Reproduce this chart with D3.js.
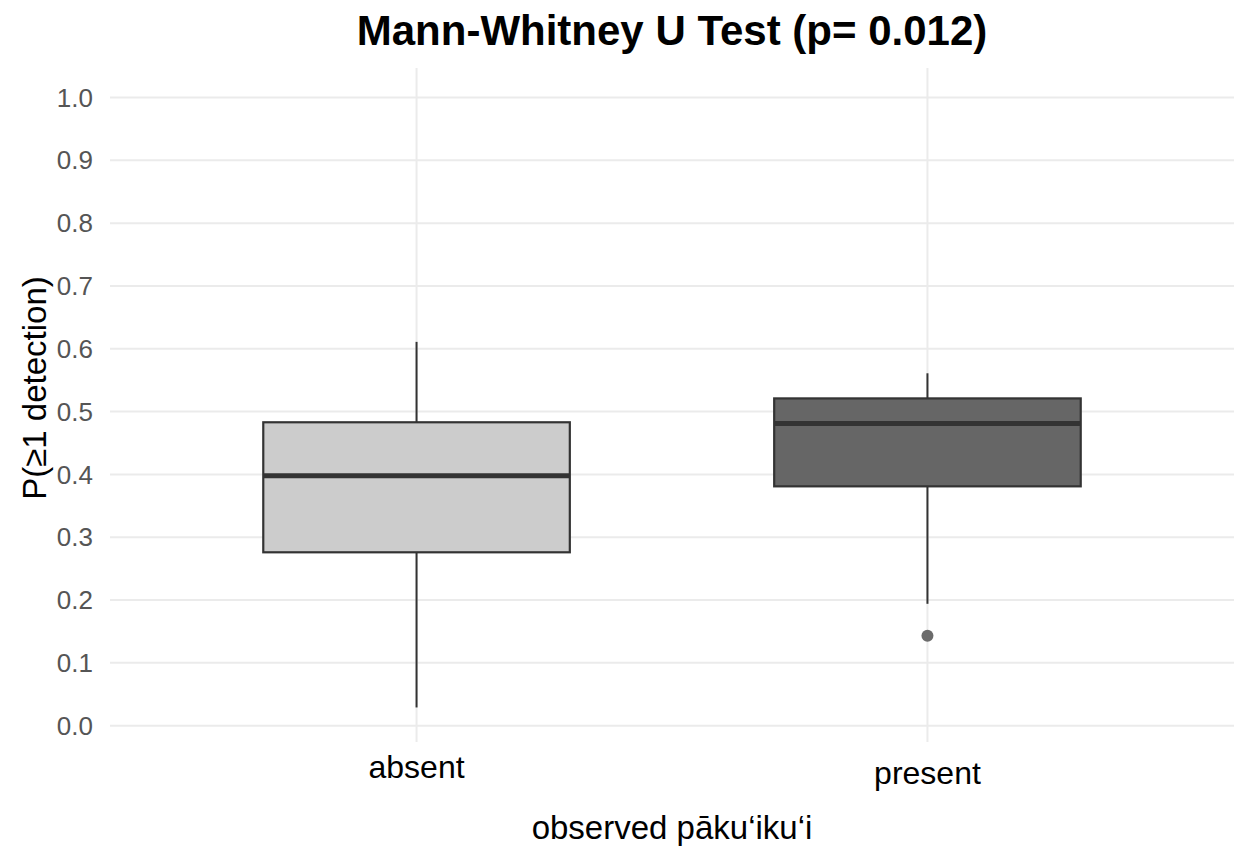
<!DOCTYPE html>
<html>
<head>
<meta charset="utf-8">
<script src="https://cdn.jsdelivr.net/npm/d3@7"></script>
<style>
  body { margin: 0; background: #fff; }
  text { font-family: "Liberation Sans", Arial, sans-serif; }
</style>
</head>
<body>
<div id="chart"></div>
<script>
// box stats
var categories = ['absent', 'present'];
var whiskerLow = [0.029, 0.194];
var q1 = [0.276, 0.381];
var median = [0.398, 0.481];
var q3 = [0.483, 0.521];
var whiskerHigh = [0.611, 0.561];
var outliers = [[], [0.143]];
var fills = ['#CCCCCC', '#666666'];
var yTicks = [0, 0.1, 0.2, 0.3, 0.4, 0.5, 0.6, 0.7, 0.8, 0.9, 1.0];

var W = 1238, H = 847;
var pLeft = 110, pRight = 1234, pTop = 68, pBottom = 742;

var svg = d3.select('#chart').append('svg')
    .attr('width', W)
    .attr('height', H);

var x = d3.scalePoint()
    .domain(categories)
    .range([pLeft, pRight])
    .padding(0.6);

var y = d3.scaleLinear()
    .domain([-0.026, 1.047])
    .range([pBottom, pTop]);

var boxW = x.step() * 0.6;

// grid
svg.append('g')
    .selectAll('line')
    .data(yTicks)
    .enter().append('line')
    .attr('x1', pLeft).attr('x2', pRight)
    .attr('y1', d => y(d)).attr('y2', d => y(d))
    .attr('stroke', '#EBEBEB')
    .attr('stroke-width', 2);

svg.append('g')
    .selectAll('line')
    .data(categories)
    .enter().append('line')
    .attr('x1', d => x(d)).attr('x2', d => x(d))
    .attr('y1', pTop).attr('y2', pBottom)
    .attr('stroke', '#EBEBEB')
    .attr('stroke-width', 2);

// y tick labels
svg.append('g')
    .selectAll('text')
    .data(yTicks)
    .enter().append('text')
    .attr('x', 93)
    .attr('y', d => y(d))
    .attr('dy', '0.35em')
    .attr('text-anchor', 'end')
    .attr('font-size', 26)
    .attr('fill', '#555555')
    .text(d => d3.format('.1f')(d));

// boxes
var boxes = svg.append('g')
    .selectAll('g')
    .data(categories)
    .enter().append('g');

boxes.append('line')
    .attr('x1', d => x(d)).attr('x2', d => x(d))
    .attr('y1', (d, i) => y(whiskerLow[i]))
    .attr('y2', (d, i) => y(q1[i]))
    .attr('stroke', '#333333').attr('stroke-width', 2);

boxes.append('line')
    .attr('x1', d => x(d)).attr('x2', d => x(d))
    .attr('y1', (d, i) => y(q3[i]))
    .attr('y2', (d, i) => y(whiskerHigh[i]))
    .attr('stroke', '#333333').attr('stroke-width', 2);

boxes.append('rect')
    .attr('x', d => x(d) - boxW / 2)
    .attr('width', boxW)
    .attr('y', (d, i) => y(q3[i]))
    .attr('height', (d, i) => y(q1[i]) - y(q3[i]))
    .attr('fill', (d, i) => fills[i])
    .attr('stroke', '#333333')
    .attr('stroke-width', 2.2);

boxes.append('line')
    .attr('x1', d => x(d) - boxW / 2).attr('x2', d => x(d) + boxW / 2)
    .attr('y1', (d, i) => y(median[i]))
    .attr('y2', (d, i) => y(median[i]))
    .attr('stroke', '#333333').attr('stroke-width', 5);

boxes.each(function (d, i) {
  d3.select(this).selectAll('circle')
    .data(outliers[i])
    .enter().append('circle')
    .attr('cx', x(d))
    .attr('cy', v => y(v))
    .attr('r', 6)
    .attr('fill', '#6B6B6B');
});

// x tick labels (top aligned on ink like ggplot)
svg.append('g')
    .selectAll('text')
    .data(categories)
    .enter().append('text')
    .attr('x', d => x(d))
    .attr('y', d => /[bdfhkl]/.test(d) ? 778 : 784)
    .attr('text-anchor', 'middle')
    .attr('font-size', 32)
    .attr('fill', '#000')
    .text(d => d);

// titles
svg.append('text')
    .attr('x', (pLeft + pRight) / 2)
    .attr('y', 839)
    .attr('text-anchor', 'middle')
    .attr('font-size', 33)
    .attr('fill', '#000')
    .text('observed pāku‘iku‘i');

svg.append('text')
    .attr('transform', 'translate(46,388) rotate(-90)')
    .attr('text-anchor', 'middle')
    .attr('font-size', 33)
    .attr('fill', '#000')
    .text('P(≥1 detection)');

svg.append('text')
    .attr('x', (pLeft + pRight) / 2)
    .attr('y', 45)
    .attr('text-anchor', 'middle')
    .attr('font-size', 42)
    .attr('font-weight', 'bold')
    .attr('fill', '#000')
    .text('Mann-Whitney U Test (p= 0.012)');
</script>
</body>
</html>
